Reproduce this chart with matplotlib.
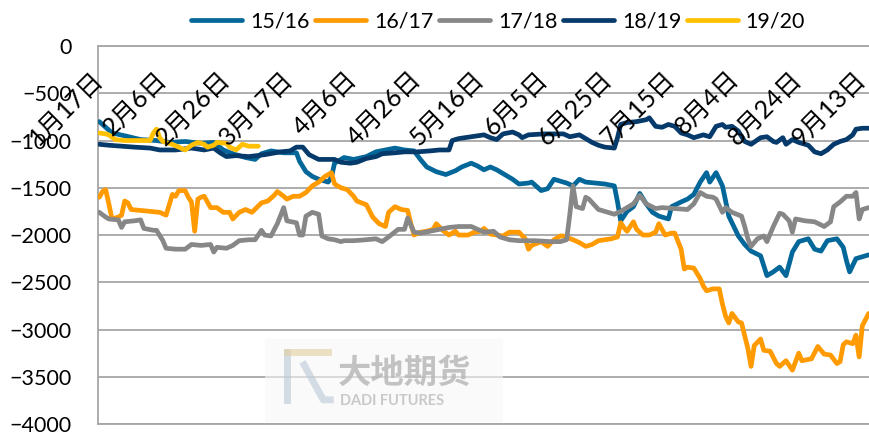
import matplotlib
matplotlib.use('Agg')
import matplotlib.pyplot as plt
from matplotlib import transforms
from matplotlib.patches import FancyBboxPatch

plt.rcParams['font.family'] = ['Lato', 'Noto Sans CJK SC', 'DejaVu Sans']

# day offsets counted from 1月17日, values in the chart's units
tick_days = [0, 20, 40, 60, 80, 100, 120, 140, 160, 180, 200, 220, 240]
tick_labels = ['1月17日', '2月6日', '2月26日', '3月17日', '4月6日', '4月26日', '5月16日',
               '6月5日', '6月25日', '7月15日', '8月4日', '8月24日', '9月13日']

days_1516 = [1, 3, 5, 9, 14, 19, 23, 28, 33, 37, 40, 43, 47, 50, 52, 55, 59, 63, 64, 66,
             68, 70, 73, 74, 75, 78, 81, 85, 88, 91, 94, 97, 100, 102, 104, 107, 110, 113,
             115, 118, 120, 122, 124, 126, 129, 131, 133, 136, 137, 140, 142, 144, 146, 148,
             150, 152, 154, 157, 160, 163, 164, 165, 167, 169, 171, 173, 175, 177, 180, 181,
             184, 186, 188, 190, 192, 193, 195, 197, 199, 202, 204, 206, 209, 211, 213, 215,
             217, 219, 221, 224, 226, 228, 230, 233, 235, 236, 237, 239, 241, 243]
vals_1516 = [-800, -860, -920, -950, -990, -1000, -1020, -1010, -1030, -1020, -1100, -1140,
             -1180, -1200, -1140, -1110, -1130, -1130, -1220, -1330, -1380, -1410, -1440,
             -1390, -1240, -1180, -1200, -1170, -1120, -1100, -1080, -1100, -1110, -1200,
             -1280, -1330, -1360, -1320, -1280, -1240, -1270, -1310, -1280, -1310, -1370,
             -1410, -1460, -1450, -1440, -1530, -1510, -1410, -1430, -1450, -1480, -1410,
             -1440, -1450, -1460, -1480, -1650, -1850, -1750, -1700, -1560, -1670, -1760,
             -1800, -1830, -1700, -1650, -1620, -1570, -1440, -1340, -1440, -1340, -1480,
             -1800, -2010, -2100, -2170, -2220, -2430, -2390, -2340, -2430, -2180, -2070,
             -2040, -2150, -2170, -2060, -2040, -2130, -2270, -2390, -2250, -2230, -2210]

days_1617 = [1, 2, 3, 4, 5, 7, 8, 9, 10, 11, 14, 17, 20, 22, 23, 24, 25, 26, 28, 29, 30,
             31, 32, 33, 34, 36, 38, 40, 42, 43, 45, 47, 49, 52, 54, 56, 57, 59, 60, 62, 64,
             66, 68, 70, 72, 74, 75, 77, 79, 81, 82, 85, 87, 89, 91, 92, 94, 96, 98, 99, 100,
             102, 104, 106, 107, 109, 111, 113, 114, 117, 119, 121, 122, 124, 126, 128, 130,
             133, 135, 136, 137, 140, 142, 144, 146, 147, 150, 152, 154, 156, 158, 162, 164,
             165, 166, 167, 169, 170, 172, 174, 176, 177, 179, 181, 182, 184, 185, 186, 188,
             190, 191, 192, 194, 196, 197, 198, 199, 200, 202, 203, 205, 206, 207, 209, 210,
             212, 214, 215, 217, 219, 221, 222, 225, 227, 229, 231, 233, 234, 235, 236, 238,
             239, 240, 241, 243]
vals_1617 = [-1600, -1540, -1520, -1670, -1830, -1810, -1790, -1640, -1660, -1730, -1740,
             -1750, -1760, -1790, -1680, -1570, -1590, -1530, -1530, -1600, -1650, -1960,
             -1620, -1600, -1590, -1710, -1710, -1760, -1760, -1830, -1760, -1730, -1760,
             -1660, -1640, -1580, -1540, -1590, -1620, -1590, -1590, -1550, -1480, -1440,
             -1380, -1340, -1460, -1500, -1520, -1590, -1640, -1680, -1810, -1880, -1910,
             -1760, -1700, -1730, -1740, -1880, -2000, -1970, -1960, -1940, -1880, -1950,
             -2000, -1960, -2000, -2000, -1970, -1960, -1930, -1990, -2000, -2010, -1970,
             -1970, -2040, -2150, -2110, -2070, -2120, -2050, -2010, -2010, -2050, -2080,
             -2120, -2100, -2060, -2040, -2020, -1870, -1920, -1960, -1860, -1940, -2000,
             -2000, -1970, -1880, -2000, -1980, -1980, -2150, -2360, -2340, -2350, -2460,
             -2540, -2590, -2570, -2570, -2730, -2860, -2930, -2830, -2920, -2930, -3200,
             -3390, -3170, -3100, -3220, -3230, -3360, -3390, -3330, -3430, -3250, -3330,
             -3310, -3180, -3260, -3270, -3360, -3340, -3160, -3130, -3150, -3060, -3290,
             -2960, -2830]

days_1718 = [1, 3, 4, 7, 8, 9, 12, 14, 15, 18, 19, 21, 22, 25, 28, 30, 33, 36, 37, 38, 41,
             43, 45, 48, 50, 52, 53, 55, 57, 59, 60, 63, 64, 65, 66, 68, 70, 71, 73, 75, 77,
             78, 81, 85, 88, 90, 92, 95, 97, 98, 100, 102, 105, 108, 111, 114, 118, 120, 122,
             125, 127, 130, 133, 138, 143, 146, 148, 149, 150, 151, 153, 154, 155, 158, 160,
             163, 165, 167, 169, 171, 173, 176, 178, 182, 186, 188, 190, 192, 194, 195, 197,
             198, 200, 203, 204, 205, 206, 208, 210, 211, 213, 215, 216, 218, 219, 220, 223,
             226, 229, 231, 232, 234, 236, 238, 239, 240, 241, 243]
vals_1718 = [-1760, -1810, -1830, -1840, -1920, -1860, -1850, -1840, -1930, -1950, -1950,
             -2060, -2140, -2150, -2150, -2100, -2110, -2100, -2180, -2130, -2140, -2110,
             -2060, -2050, -2050, -1950, -2000, -2010, -1880, -1710, -1850, -1870, -2000,
             -2000, -1800, -1760, -1780, -2010, -2040, -2050, -2070, -2060, -2060, -2050,
             -2040, -2070, -2020, -1940, -1940, -1820, -1970, -1980, -1960, -1940, -1920,
             -1910, -1910, -1940, -1970, -1960, -2020, -2050, -2060, -2060, -2070, -2070,
             -2050, -1780, -1480, -1700, -1720, -1600, -1620, -1730, -1750, -1780, -1750,
             -1710, -1670, -1580, -1670, -1720, -1710, -1720, -1730, -1670, -1550, -1590,
             -1600, -1620, -1760, -1710, -1760, -1800, -1910, -2040, -2120, -2040, -2010,
             -2070, -1910, -1770, -1780, -1850, -1970, -1830, -1850, -1860, -1910, -1860,
             -1700, -1650, -1590, -1590, -1550, -1830, -1730, -1710]

days_1819 = [1, 4, 8, 12, 17, 20, 25, 30, 34, 37, 39, 41, 44, 48, 53, 58, 61, 63, 65, 67,
             70, 72, 75, 77, 80, 82, 85, 88, 90, 94, 97, 101, 105, 108, 111, 112, 114, 118,
             122, 124, 126, 128, 131, 133, 134, 136, 141, 147, 149, 152, 154, 156, 158, 160,
             163, 164, 165, 167, 170, 173, 174, 176, 178, 180, 182, 184, 186, 188, 191, 193,
             195, 197, 198, 200, 202, 204, 206, 209, 211, 213, 214, 216, 217, 219, 221, 224,
             226, 228, 230, 232, 234, 236, 238, 239, 241, 243]
vals_1819 = [-1040, -1050, -1060, -1070, -1080, -1100, -1100, -1080, -1100, -1080, -1130,
             -1170, -1160, -1170, -1150, -1120, -1110, -1070, -1070, -1150, -1200, -1200,
             -1200, -1230, -1240, -1230, -1190, -1170, -1140, -1130, -1120, -1120, -1110,
             -1100, -1100, -1000, -980, -960, -940, -970, -990, -930, -910, -940, -970, -940,
             -930, -930, -960, -940, -980, -1020, -1050, -1070, -1080, -970, -830, -810,
             -800, -780, -760, -850, -860, -830, -850, -920, -940, -970, -940, -960, -850,
             -830, -860, -850, -900, -1010, -1040, -970, -960, -1010, -1020, -970, -1040,
             -990, -1020, -1050, -1120, -1140, -1100, -1040, -1010, -990, -940, -880, -870,
             -870]

days_1920 = [1, 3, 4, 6, 9, 14, 17, 18, 19, 20, 21, 22, 24, 26, 28, 30, 32, 34, 35, 37, 38,
             41, 42, 44, 46, 48, 51]
vals_1920 = [-920, -930, -940, -990, -1000, -1000, -1000, -920, -880, -970, -1010, -1020,
             -1040, -1070, -1100, -1050, -1020, -1040, -1070, -1050, -1020, -1030, -1070,
             -1100, -1040, -1060, -1060]

series = [
    ('15/16', days_1516, vals_1516, '#03679a'),
    ('16/17', days_1617, vals_1617, '#ff9a00'),
    ('17/18', days_1718, vals_1718, '#878787'),
    ('18/19', days_1819, vals_1819, '#053a6b'),
    ('19/20', days_1920, vals_1920, '#ffc000'),
]

fig = plt.figure(figsize=(8.69, 4.37), dpi=100)
ax = fig.add_axes([0.1128, 0.0297, 0.8872, 0.865])

grid_col = '#a6a6a6'
for name, d, v, col in series:
    ax.plot(d, v, color=col, lw=3.4, label=name, solid_joinstyle='round',
            solid_capstyle='round', zorder=3)

ax.set_xlim(0.6, 243.1)
ax.set_ylim(-4000, 0)
ax.set_yticks(range(-4000, 1, 500))
ax.tick_params(axis='y', length=0, pad=19, labelsize=15.5)
ax.set_xticks([])
ax.yaxis.grid(True, color=grid_col, lw=1.3, zorder=0)
ax.spines['right'].set_visible(False)
for s in ['left', 'top', 'bottom']:
    ax.spines[s].set_color(grid_col)
    ax.spines[s].set_linewidth(1.3)

# date labels hang under the zero line, slanted
trans = transforms.blended_transform_factory(ax.transData, ax.transAxes)
for d, lab in zip(tick_days, tick_labels):
    ax.text(d + 0.9, 0.924, lab, transform=trans, rotation=45, rotation_mode='anchor',
            ha='right', va='center', fontsize=18, zorder=5)

# company watermark
wm = FancyBboxPatch((0.305, 0.035), 0.274, 0.19, boxstyle='square,pad=0',
                    transform=fig.transFigure, facecolor='#f7f7f7', edgecolor='none',
                    alpha=0.6, zorder=1)
fig.patches.append(wm)
fig.add_artist(plt.Line2D([0.330, 0.330], [0.085, 0.195], color='#b9c7d6', lw=5,
                          transform=fig.transFigure, alpha=0.6))
fig.add_artist(plt.Line2D([0.330, 0.378], [0.195, 0.195], color='#e3cf9f', lw=5,
                          transform=fig.transFigure, alpha=0.6))
fig.add_artist(plt.Line2D([0.350, 0.372, 0.380], [0.165, 0.085, 0.085], color='#b9c7d6',
                          lw=5, transform=fig.transFigure, alpha=0.6))
fig.text(0.389, 0.145, '大地期货', fontsize=24, fontweight='bold', color='#b5b5b5',
         family=['Noto Sans CJK SC'], va='center', ha='left', alpha=0.8)
fig.text(0.391, 0.082, 'DADI FUTURES', fontsize=10.5, fontweight='bold', color='#bdbdbd',
         va='center', ha='left', alpha=0.8)

fig.legend(loc='center', bbox_to_anchor=(0.573, 0.95), ncol=5, frameon=False,
           fontsize=15.5, handlelength=2.4, handletextpad=0.35, columnspacing=0.25)

fig.savefig('out.png', dpi=100)
